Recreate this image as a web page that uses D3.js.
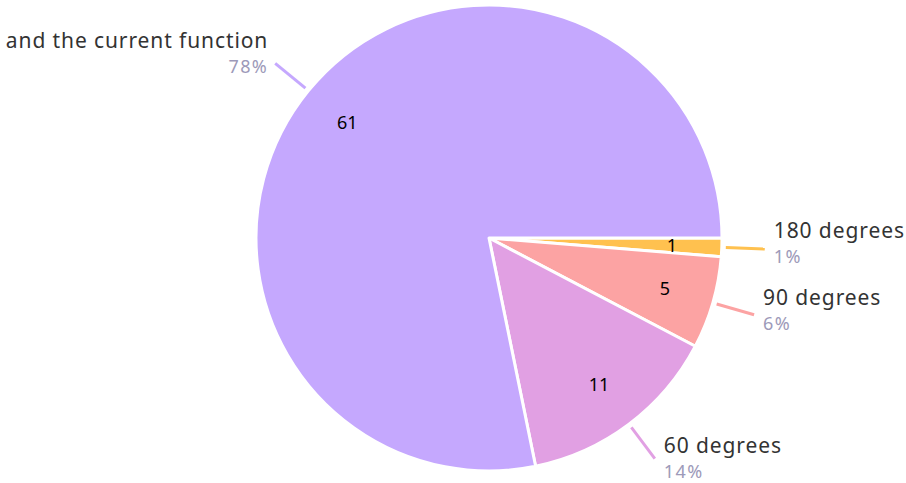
<!DOCTYPE html>
<html lang="en">
<head>
    <meta charset="utf-8">
    <title>Pie</title>
    <script src="https://d3js.org/d3.v7.min.js"></script>
    <style>
        html, body { margin: 0; padding: 0; background: #fff; }
        svg { display: block; font-family: "Noto Sans", sans-serif; }
    </style>
</head>
<body>
    <div id="viz"></div>

    <script type="text/javascript">
        // data, in drawing order (clockwise from 3 o'clock)
        const categories = ["180 degrees", "90 degrees", "60 degrees", "and the current function"];
        const counts = [1, 5, 11, 61];
        const colors = ["#ffc14f", "#fca3a3", "#e1a0e3", "#c5a8fe"];

        const width = 906;
        const height = 483;
        const cx = 489, cy = 238;
        const radius = 233;

        const total = d3.sum(counts);
        const data = categories.map((c, i) => ({name: c, value: counts[i], color: colors[i]}));

        const svg = d3.select("#viz")
            .append("svg")
            .attr("width", width)
            .attr("height", height);

        const g = svg.append("g")
            .attr("transform", `translate(${cx},${cy})`);

        const pie = d3.pie()
            .sort(null)
            .value(d => d.value)
            .startAngle(Math.PI / 2)
            .endAngle(Math.PI / 2 + 2 * Math.PI);

        const arcs = pie(data);

        const arc = d3.arc().innerRadius(0).outerRadius(radius);
        const labelArc = d3.arc().innerRadius(183).outerRadius(183);
        const lineStart = d3.arc().innerRadius(237).outerRadius(237);
        const lineEnd = d3.arc().innerRadius(276).outerRadius(276);

        // slices
        g.selectAll("path.slice")
            .data(arcs)
            .enter()
            .append("path")
            .attr("class", "slice")
            .attr("d", arc)
            .attr("fill", d => d.data.color)
            .attr("stroke", "#fff")
            .attr("stroke-width", 3)
            .attr("stroke-linejoin", "round");

        // counts inside
        g.selectAll("text.count")
            .data(arcs)
            .enter()
            .append("text")
            .attr("class", "count")
            .attr("transform", d => `translate(${labelArc.centroid(d)})`)
            .attr("text-anchor", "middle")
            .attr("dy", "0.36em")
            .attr("font-size", 18)
            .attr("fill", "#000")
            .text(d => d.data.value);

        // leader lines
        g.selectAll("line.leader")
            .data(arcs)
            .enter()
            .append("line")
            .attr("class", "leader")
            .attr("x1", d => lineStart.centroid(d)[0])
            .attr("y1", d => lineStart.centroid(d)[1])
            .attr("x2", d => lineEnd.centroid(d)[0])
            .attr("y2", d => lineEnd.centroid(d)[1])
            .attr("stroke", d => d.data.color)
            .attr("stroke-width", 3);

        // outside labels
        const mid = d => (d.startAngle + d.endAngle) / 2;
        const outer = g.selectAll("g.outer")
            .data(arcs)
            .enter()
            .append("g")
            .attr("class", "outer")
            .attr("transform", d => {
                const [x, y] = lineEnd.centroid(d);
                const right = Math.sin(mid(d)) > 0;
                const yc = y + 2 - 7 * Math.cos(mid(d));
                return `translate(${right ? x + 9 : x - 7},${yc})`;
            })
            .attr("text-anchor", d => Math.sin(mid(d)) > 0 ? "start" : "end");

        outer.append("text")
            .attr("y", -13.5)
            .attr("font-size", 21)
            .attr("letter-spacing", 0.9)
            .attr("fill", "#333")
            .text(d => d.data.name);

        outer.append("text")
            .attr("y", 11.5)
            .attr("font-size", 18)
            .attr("letter-spacing", 1.4)
            .attr("fill", "#9d9ab9")
            .text(d => Math.round(d.data.value / total * 100) + "%");
    </script>
</body>
</html>
